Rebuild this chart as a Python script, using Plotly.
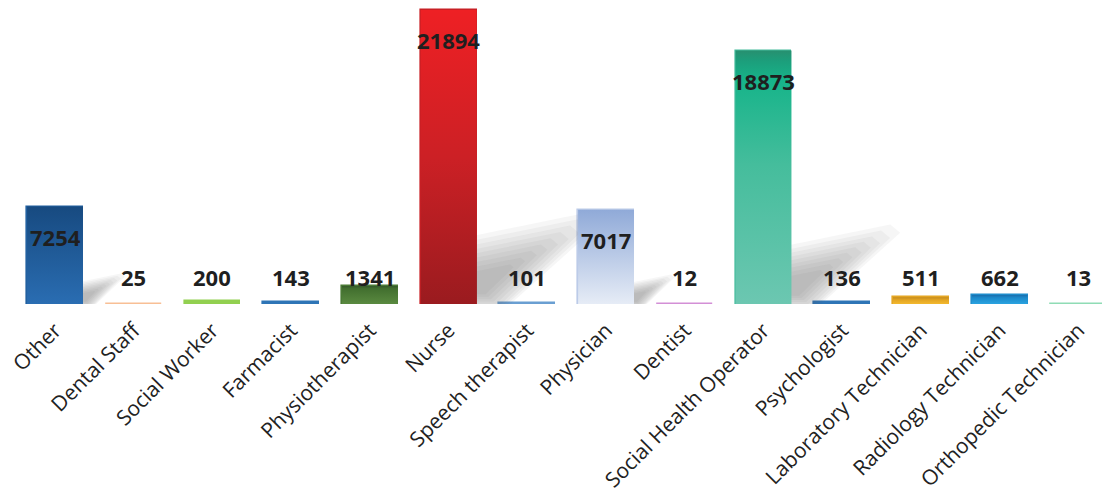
import plotly.graph_objects as go

# Healthcare workers by professional role
roles = [
    "Other", "Dental Staff", "Social Worker", "Farmacist", "Physiotherapist",
    "Nurse", "Speech therapist", "Physician", "Dentist", "Social Health Operator",
    "Psychologist", "Laboratory Technician", "Radiology Technician", "Orthopedic Technician",
]
counts = [7254, 25, 200, 143, 1341, 21894, 101, 7017, 12, 18873, 136, 511, 662, 13]

# Solid colour of each bar
bar_colors = [
    "#2260a0", "#f8bf95", "#92d050", "#2e75b6", "#4a7a35", "#c81f24", "#6a9fd2",
    "#bccbe8", "#d38fd6", "#44bc9c", "#2e75b6", "#e4a623", "#1f8ccb", "#8fdcb5",
]

# Vertical gradients (bottom -> top) for the shaded bars
gradients = {
    0: [[0, "#2a6db2"], [1, "#174a80"]],
    4: [[0, "#5a8a40"], [0.85, "#426f2f"], [1, "#34592a"]],
    5: [[0, "#9a1b1f"], [0.5, "#cc2025"], [1, "#ee2024"]],
    7: [[0, "#e6ecf6"], [1, "#90aad8"]],
    9: [[0, "#6cc7b1"], [0.55, "#45bd9c"], [0.88, "#17b48a"], [0.96, "#1c9e7b"], [1, "#279070"]],
    11: [[0, "#f3b92f"], [0.6, "#e3a523"], [1, "#c38b1f"]],
    12: [[0, "#2aa3e0"], [0.7, "#1c8acb"], [1, "#1a6fae"]],
}

# Pixel <-> data scaling of the plot area
PLOT_H = 304
Y_MAX = 21894 / 294 * PLOT_H
PX_Y = Y_MAX / PLOT_H          # data units per vertical pixel
X_LO, X_HI = -0.699, 13.30
PX_X = (X_HI - X_LO) / 1102    # category units per horizontal pixel
HALF = 0.355                   # half bar width in category units

fig = go.Figure()

# Soft cast shadows behind the tall bars: stacked translucent wedges that
# shrink toward the foot of the bar, so the shade is darkest there
SHADOW_LAYERS = [1.3, 1.18, 1.06, 0.95, 0.84, 0.73, 0.62, 0.5, 0.38]
for i, v in enumerate(counts):
    h = v / PX_Y
    if h < 30:
        continue
    xr = i + HALF
    wedge = [
        (-0.02 * h, -3),
        (-0.02 * h, 0.19 * h),
        (0.30 * h, 0.255 * h),
        (0.33 * h, 0.23 * h),
        (0.08 * h, -3),
    ]
    cx, cy = 0.0, 0.06 * h
    for f in SHADOW_LAYERS:
        pts = [(cx + f * (px - cx), cy + f * (py - cy)) for px, py in wedge]
        fig.add_trace(go.Scatter(
            x=[xr + px * PX_X for px, _ in pts],
            y=[max(py, -3) * PX_Y for _, py in pts],
            fill="toself", mode="lines", line=dict(width=0),
            fillcolor="rgba(90,90,90,0.055)", hoverinfo="skip", showlegend=False,
        ))

# Bars
fig.add_trace(go.Bar(
    x=list(range(len(roles))), y=counts, width=2 * HALF,
    marker=dict(color=bar_colors, line=dict(color=bar_colors, width=1.6)),
    showlegend=False, hoverinfo="skip",
))

# Gradient faces over the shaded bars
for i, cs in gradients.items():
    v = counts[i]
    fig.add_trace(go.Scatter(
        x=[i - HALF, i + HALF, i + HALF, i - HALF, i - HALF],
        y=[0, 0, v, v, 0],
        fill="toself", mode="lines", line=dict(width=0),
        fillgradient=dict(type="vertical", colorscale=cs),
        hoverinfo="skip", showlegend=False,
    ))

# Value labels: inside near the top of tall bars, above short ones
for i, v in enumerate(counts):
    fig.add_annotation(
        x=i, y=max(v - 30 * PX_Y, 27 * PX_Y), text=str(v), showarrow=False,
        xanchor="center", yanchor="middle",
        font=dict(family="Open Sans", size=22, color="#1f1f1f", weight="bold"),
    )

fig.update_layout(
    width=1102, height=494,
    margin=dict(l=0, r=0, t=0, b=190),
    paper_bgcolor="white", plot_bgcolor="white",
    bargap=0,
    xaxis=dict(
        range=[X_LO, X_HI], tickmode="array",
        tickvals=list(range(len(roles))), ticktext=roles,
        tickangle=-45, showgrid=False, zeroline=False, showline=False,
        ticks="", ticklabelstandoff=9, automargin=False,
        tickfont=dict(family="Open Sans", size=21, color="#222222"),
    ),
    yaxis=dict(range=[0, Y_MAX], visible=False, showgrid=False, automargin=False),
)

fig.write_html("out.html")
